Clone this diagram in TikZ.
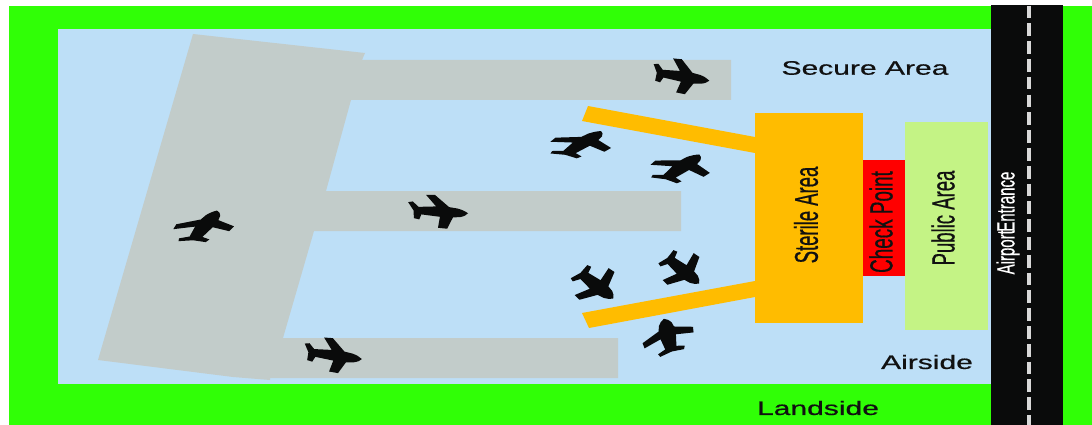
\documentclass[tikz,border=0pt]{standalone}
\usepackage{fontspec}
\setmainfont{Liberation Sans}
\newfontfamily\labelfont[FakeBold=0.6]{Liberation Sans}
\definecolor{landgreen}{HTML}{30FF06}
\definecolor{airblue}{HTML}{BDDFF7}
\definecolor{apron}{HTML}{C2CCCA}
\definecolor{gold}{HTML}{FFBC00}
\definecolor{pubgreen}{HTML}{C4F385}
\definecolor{roadblack}{HTML}{0A0B0B}
\definecolor{inkblack}{HTML}{111111}
\tikzset{
  zone/.style={fill=#1,draw=none},
  widelabel/.style={inner sep=0pt,text=inkblack,xscale=1.54,font=\labelfont\fontsize{19.5}{20}\selectfont},
  sidelabel/.style={inner sep=0pt,text=inkblack,rotate=90,font=\labelfont\fontsize{32}{32}\selectfont},
}
% nose x,y / tail x,y / wing tip 1 x,y / wing tip 2 x,y, in reference pixels
\newcommand{\planeshape}[8]{%
  \pgfmathsetmacro{\exx}{(#1-#3)/55}%
  \pgfmathsetmacro{\exy}{(#2-#4)/55}%
  \pgfmathsetmacro{\eyx}{(#7-#5)/35}%
  \pgfmathsetmacro{\eyy}{(#8-#6)/35}%
  \pgfmathsetmacro{\ox}{(#5+#7)/2+3*\exx}%
  \pgfmathsetmacro{\oy}{(#6+#8)/2+3*\exy}%
  \pgfmathsetmacro{\cexy}{-\exy}%
  \pgfmathsetmacro{\ceyy}{-\eyy}%
  \pgfmathsetmacro{\coy}{-\oy}%
  \begin{scope}[shift={(\ox pt,\coy pt)},x={(\exx pt,\cexy pt)},y={(\eyx pt,\ceyy pt)}]
    \fill[roadblack,line join=round]
      (29,0) .. controls (27,-2) and (24,-3.5) .. (20,-4.5) -- (12,-5.5)
      -- (2,-18) -- (-7,-17.5) -- (-1,-5.5) -- (-19,-4)
      -- (-23,-9.5) -- (-28,-8.5) -- (-25.5,0) -- (-28,8.5) -- (-23,9.5)
      -- (-19,4) -- (-1,5.5) -- (-7,17.5) -- (2,18) -- (12,5.5)
      -- (20,4.5) .. controls (24,3.5) and (27,2) .. (29,0) -- cycle;
  \end{scope}%
}
\begin{document}
\begin{tikzpicture}[x=1pt,y=-1pt]
\useasboundingbox (0,0) rectangle (1092,425);
% ground
\fill[zone=landgreen] (9,6) rectangle (1092,425);
\fill[zone=airblue] (58,29) rectangle (992,384);
% road
\fill[zone=roadblack] (991,5) rectangle (1063,425);
\draw[white!85!black,line width=3.6pt,dash pattern=on 12.7pt off 5.1pt]
  (1029,5.6) -- (1029,425);
% apron
\fill[zone=apron] (193,34) -- (365,53) -- (362,60) -- (731,60) -- (731,100) -- (351,100)
  -- (326,191) -- (681,191) -- (681,231) -- (314,231) -- (283,338) -- (618,338) -- (618,378)
  -- (270,378) -- (270,380) -- (233,377) -- (98,360) -- cycle;
% piers
\fill[zone=gold] (588,106) -- (755,137) -- (755,153) -- (582,121) -- cycle;
\fill[zone=gold] (582,313) -- (755,281) -- (755,297) -- (589,328) -- cycle;
% terminal blocks
\fill[zone=gold] (755,113) rectangle (863,323);
\fill[zone=red] (863,160) rectangle (905,276);
\fill[zone=pubgreen] (905,122) rectangle (988,330);
% labels
\node[widelabel] (secure) at (865,68) {Secure Area};
\node[widelabel] (airside) at (927,362) {Airside};
\node[widelabel] (landside) at (818,408) {Landside};
\node[sidelabel,xscale=.56,font=\labelfont\fontsize{33}{33}\selectfont] (sterile) at (806,215) {Sterile Area};
\node[sidelabel,xscale=.59] (check) at (881,222) {Check Point};
\node[sidelabel,xscale=.58] (public) at (943,218) {Public Area};
\node[sidelabel,xscale=.6,text=white,font=\labelfont\fontsize{25}{25}\selectfont] (entrance) at (1008,223) {Airport\hspace{-.1em}Entrance};
% aircraft
\planeshape{710}{82}{657}{74}{677}{59}{680}{93}
\planeshape{467}{213}{412}{210}{430}{195}{442}{228}
\planeshape{218}{211}{194}{241}{175}{227}{231}{229}
\planeshape{362}{359}{308}{352}{328}{338}{333}{372}
\planeshape{601}{133}{565}{157}{553}{140}{607}{150}
\planeshape{700}{155}{666}{180}{653}{163}{706}{175}
\planeshape{612}{298}{579}{272}{611}{270}{577}{297}
\planeshape{698}{283}{666}{257}{696}{255}{665}{282}
\planeshape{665}{319}{673}{352}{644}{346}{693}{330}
\end{tikzpicture}
\end{document}
